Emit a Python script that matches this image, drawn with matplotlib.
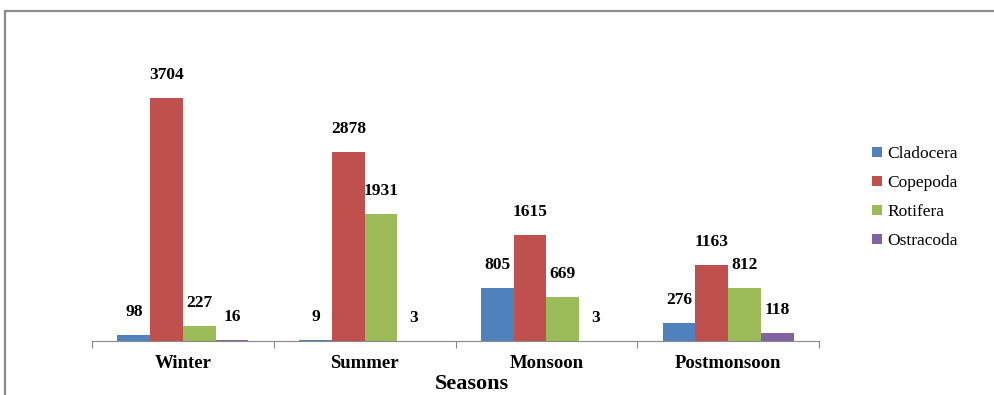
import numpy as np
import matplotlib
matplotlib.use("Agg")
import matplotlib.pyplot as plt
from matplotlib.patches import Rectangle

seasons = ["Winter", "Summer", "Monsoon", "Postmonsoon"]
cladocera = [98, 9, 805, 276]
copepoda = [3704, 2878, 1615, 1163]
rotifera = [227, 1931, 669, 812]
ostracoda = [16, 3, 3, 118]

series = [("Cladocera", cladocera, "#4F81BD"),
          ("Copepoda", copepoda, "#C0504D"),
          ("Rotifera", rotifera, "#9BBB59"),
          ("Ostracoda", ostracoda, "#8064A2")]

plt.rcParams['font.family'] = ['Liberation Serif', 'DejaVu Serif']

fig = plt.figure(figsize=(9.94, 3.95), dpi=100)
ax = fig.add_axes([0.0926, 0.1367, 0.7314, 0.664])

# outer chart frame (cut off at right and bottom like the source)
fig.patches.append(Rectangle((5 / 994, -0.1), 1.2, 1 - 11 / 395 + 0.1,
                             transform=fig.transFigure, fill=False,
                             edgecolor="#8c8c8c", linewidth=1.6))

x = np.arange(len(seasons))
w = 0.18
for i, (name, vals, col) in enumerate(series):
    pos = x + (i - 1.5) * w
    ax.bar(pos, vals, w, color=col, label=name)
    for px, v in zip(pos, vals):
        ax.annotate(str(v), (px, v), xytext=(0, 16.5), textcoords="offset points",
                    ha="center", va="center", fontsize=12.5, fontweight="bold")

ax.set_xlim(-0.5, 3.5)
ax.set_ylim(0, 4000)
ax.set_xticks(np.arange(-0.5, 4, 1))
ax.set_xticklabels([])
ax.set_xticks(x, minor=True)
ax.set_xticklabels(seasons, minor=True, fontsize=13.5, fontweight="bold")
ax.tick_params(axis="x", which="major", length=5, color="#888888")
ax.tick_params(axis="x", which="minor", length=0, pad=10)
ax.set_yticks([])
for s in ["left", "right", "top"]:
    ax.spines[s].set_visible(False)
ax.spines["bottom"].set_color("#888888")
ax.set_xlabel("Seasons", fontsize=16, fontweight="bold")
ax.xaxis.set_label_coords(0.5225, -0.124)

ax.legend(loc="center left", bbox_to_anchor=(1.052, 0.547), frameon=False,
          fontsize=12.5, handlelength=0.55, handleheight=0.55, handletextpad=0.3,
          labelspacing=0.75)

fig.savefig("out.png", dpi=100)
